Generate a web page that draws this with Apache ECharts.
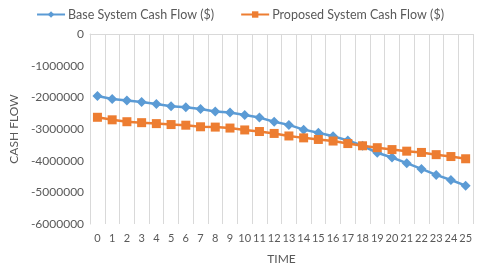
<!DOCTYPE html>
<html>
<head>
<meta charset="utf-8">
<script src="https://cdn.jsdelivr.net/npm/echarts@6/dist/echarts.min.js"></script>
<style>html,body{margin:0;padding:0;background:#fff}#c{width:480px;height:270px}</style>
</head>
<body>
<div id="c"></div>
<script>
const categories = ['0','1','2','3','4','5','6','7','8','9','10','11','12','13','14','15','16','17','18','19','20','21','22','23','24','25'];
const baseSystem = [-1960000,-2050000,-2100000,-2150000,-2210000,-2280000,-2310000,-2370000,-2450000,-2480000,-2560000,-2640000,-2770000,-2870000,-3020000,-3120000,-3230000,-3360000,-3530000,-3750000,-3900000,-4080000,-4260000,-4450000,-4610000,-4790000];
const proposedSystem = [-2630000,-2710000,-2770000,-2800000,-2830000,-2860000,-2880000,-2930000,-2940000,-2970000,-3030000,-3080000,-3140000,-3220000,-3280000,-3330000,-3380000,-3460000,-3530000,-3590000,-3650000,-3700000,-3740000,-3810000,-3870000,-3940000];
const seriesNames = ['Base System Cash Flow ($)','Proposed System Cash Flow ($)'];
const yTicks = {min:-6000000, max:0, interval:1000000};

const font = 'Lato, "Open Sans", sans-serif';
const chart = echarts.init(document.getElementById('c'));
chart.setOption({
  animation:false,
  textStyle:{fontFamily:font},
  legend:{
    top:3, left:'center', itemGap:26, itemWidth:28, itemHeight:8,
    textStyle:{fontFamily:font, fontSize:12.5, color:'#595959', padding:[0,0,0,-2]},
    data:seriesNames
  },
  grid:{left:86, right:7, top:34, bottom:41},
  xAxis:[{
    type:'category', data:categories, position:'bottom', boundaryGap:true,
    axisLine:{show:false, onZero:false}, axisTick:{show:false},
    axisLabel:{interval:0, fontSize:11, color:'#595959', margin:9, fontFamily:font},
    splitLine:{show:true, interval:0, lineStyle:{color:'#d9d9d9', width:1}},
    name:'TIME', nameLocation:'middle', nameGap:29,
    nameTextStyle:{fontSize:12, color:'#595959', fontFamily:font}
  },{
    type:'category', data:categories, position:'top',
    axisLine:{show:true, onZero:false, lineStyle:{color:'#d9d9d9'}}, axisTick:{show:false}, axisLabel:{show:false}
  }],
  yAxis:{
    type:'value', min:yTicks.min, max:yTicks.max, interval:yTicks.interval,
    axisLine:{show:true, lineStyle:{color:'#d9d9d9'}}, axisTick:{show:false},
    splitLine:{show:false},
    axisLabel:{fontSize:12, color:'#595959', margin:6, fontFamily:font, formatter:function(v){return String(v);}},
    name:'CASH FLOW', nameLocation:'middle', nameGap:66, nameRotate:90,
    nameTextStyle:{fontSize:12, color:'#595959', fontFamily:font}
  },
  series:[{
    name:seriesNames[0], type:'line', data:baseSystem,
    symbol:'diamond', symbolSize:10,
    lineStyle:{color:'#5B9BD5', width:2.5}, itemStyle:{color:'#5B9BD5'}
  },{
    name:seriesNames[1], type:'line', data:proposedSystem,
    symbol:'rect', symbolSize:9,
    lineStyle:{color:'#ED7D31', width:2.5}, itemStyle:{color:'#ED7D31'}
  }]
});
</script>
</body>
</html>
